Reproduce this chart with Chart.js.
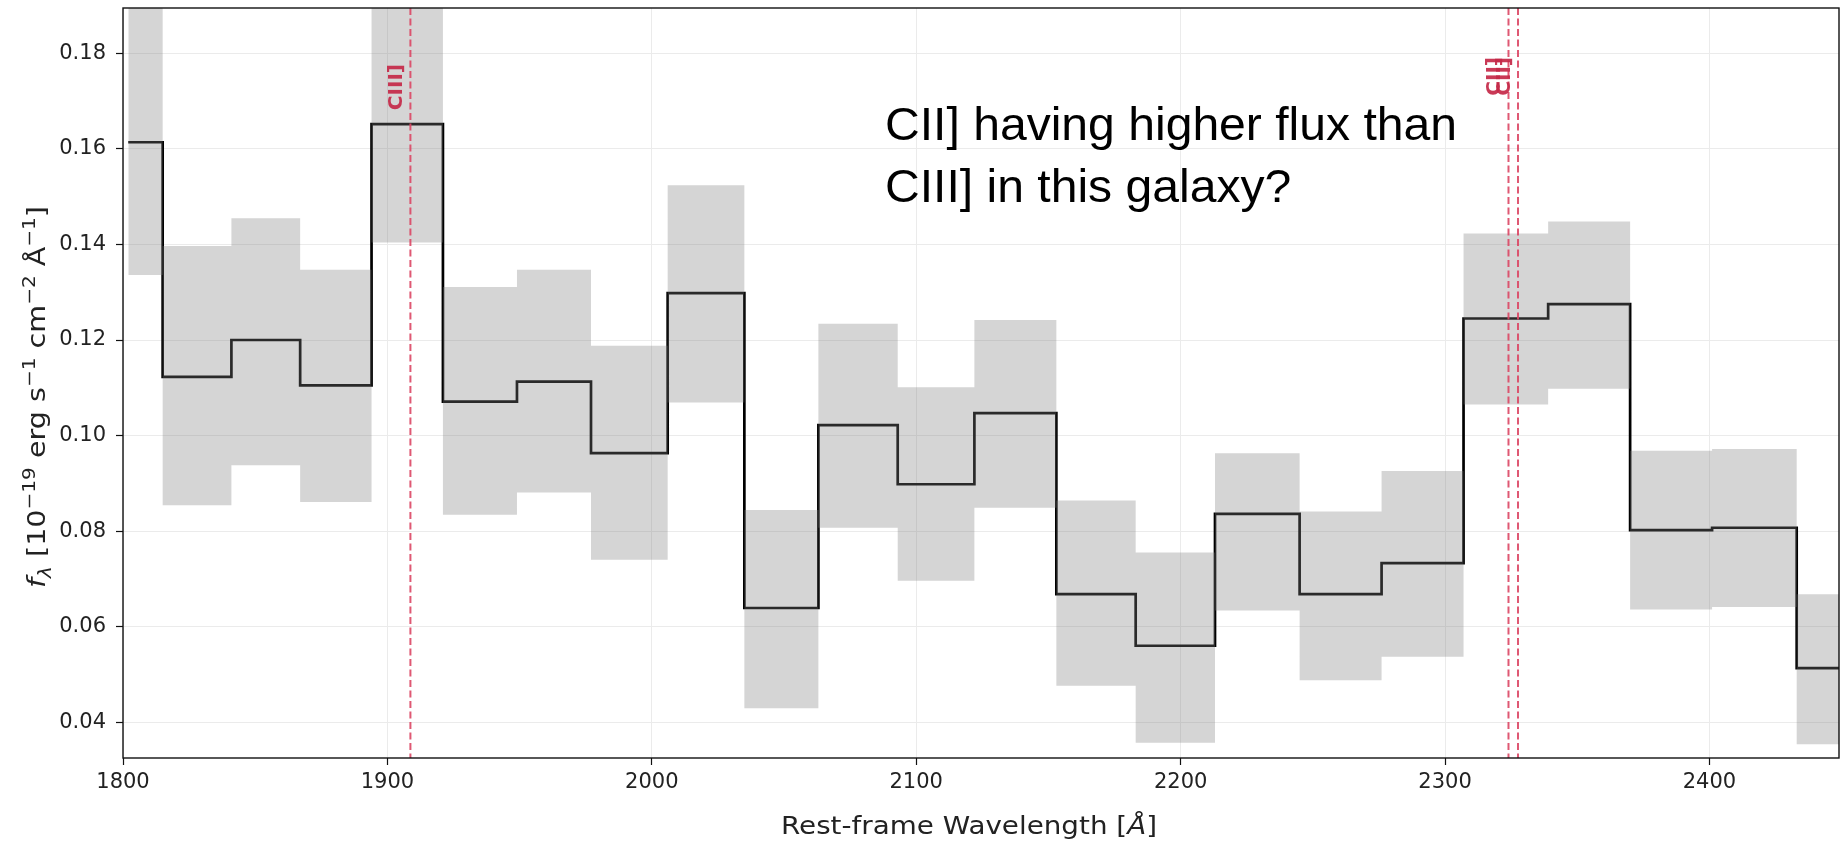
<!DOCTYPE html>
<html>
<head>
<meta charset="utf-8">
<script src="https://cdn.jsdelivr.net/npm/chart.js@4.4.1/dist/chart.umd.min.js"></script>
<style>
  html, body { margin: 0; padding: 0; background: #ffffff; }
  #wrap { width: 1843px; height: 844px; position: relative; }
  canvas { display: block; }
</style>
</head>
<body>
<div id="wrap"><canvas id="c" width="1843" height="844" style="width:1843px;height:844px"></canvas></div>
<script>
// ---- data ----
const binEdges = [1802, 1815, 1841, 1867, 1894, 1921, 1949, 1977, 2006, 2035, 2063, 2093, 2122, 2153, 2183, 2213, 2245, 2276, 2307, 2339, 2370, 2401, 2433, 2466];
const flux  = [0.1614, 0.1123, 0.1200, 0.1105, 0.1652, 0.1071, 0.1113, 0.0963, 0.1298, 0.0639, 0.1022, 0.0898, 0.1047, 0.0668, 0.0560, 0.0836, 0.0668, 0.0733, 0.1245, 0.1275, 0.0802, 0.0807, 0.0513];
const upper = [0.1900, 0.1397, 0.1455, 0.1347, 0.1900, 0.1311, 0.1347, 0.1188, 0.1524, 0.0844, 0.1234, 0.1101, 0.1242, 0.0864, 0.0755, 0.0963, 0.0841, 0.0926, 0.1423, 0.1448, 0.0968, 0.0972, 0.0668];
const lower = [0.1336, 0.0854, 0.0938, 0.0861, 0.1404, 0.0834, 0.0881, 0.0740, 0.1069, 0.0429, 0.0807, 0.0696, 0.0849, 0.0476, 0.0357, 0.0634, 0.0488, 0.0537, 0.1065, 0.1098, 0.0636, 0.0641, 0.0354];
const xTicks = [1800, 1900, 2000, 2100, 2200, 2300, 2400];
const yTicks = [0.04, 0.06, 0.08, 0.10, 0.12, 0.14, 0.16, 0.18];
const lineWavelengths = [1908.7, 2324.0, 2327.6];
const lineLabels = ['CIII]', 'CII]', 'CII]'];
const xRange = [1800, 2449];
const yRange = [0.0325, 0.1895];
const noteLines = ['CII] having higher flux than', 'CIII] in this galaxy?'];
const xTitle = 'Rest-frame Wavelength [Å]';

function stepPoints(vals) {
  const pts = vals.map((v, i) => ({ x: binEdges[i], y: v }));
  pts.push({ x: binEdges[vals.length], y: vals[vals.length - 1] });
  return pts;
}

// rich-text helper (for super/subscripts)
function richWidth(ctx, parts, fs, fam) {
  let w = 0;
  for (const p of parts) {
    const s = p.sup || p.sub ? fs * 0.7 : fs;
    ctx.font = (p.it ? 'italic ' : '') + s + 'px ' + fam;
    w += ctx.measureText(p.t).width;
  }
  return w;
}
function richDraw(ctx, parts, fs, fam) {
  let x = 0;
  for (const p of parts) {
    const s = p.sup || p.sub ? fs * 0.7 : fs;
    ctx.font = (p.it ? 'italic ' : '') + s + 'px ' + fam;
    const dy = p.sup ? -fs * 0.42 : (p.sub ? fs * 0.22 : 0);
    ctx.fillText(p.t, x, dy);
    x += ctx.measureText(p.t).width;
  }
}

const decor = {
  id: 'decor',
  afterDatasetsDraw(chart) {
    const { ctx, chartArea: a, scales } = chart;
    const xs = scales.x;
    ctx.save();
    // emission-line markers
    ctx.beginPath();
    ctx.rect(a.left, a.top, a.right - a.left, a.bottom - a.top);
    ctx.clip();
    lineWavelengths.forEach((w, i) => {
      const px = xs.getPixelForValue(w);
      ctx.save();
      ctx.strokeStyle = 'rgba(220, 70, 100, 0.9)';
      ctx.lineWidth = 2;
      ctx.setLineDash([7, 3.5]);
      ctx.beginPath();
      ctx.moveTo(px, a.top);
      ctx.lineTo(px, a.bottom);
      ctx.stroke();
      ctx.restore();
      ctx.save();
      ctx.font = 'bold 20px "DejaVu Sans"';
      // end of the rotated label sits this far below the top of the axes
      const topOffset = lineLabels[i] === 'CIII]' ? 56 : 49;
      ctx.translate(px - 8, a.top + topOffset);
      ctx.rotate(-Math.PI / 2);
      ctx.fillStyle = 'rgba(196, 40, 72, 0.92)';
      ctx.textAlign = 'right';
      ctx.textBaseline = 'alphabetic';
      ctx.fillText(lineLabels[i], 0, 0);
      ctx.restore();
    });
    ctx.restore();

    // frame
    ctx.save();
    ctx.strokeStyle = '#111';
    ctx.lineWidth = 1.4;
    ctx.strokeRect(a.left, a.top, a.right - a.left, a.bottom - a.top);
    ctx.restore();

    // annotation text
    ctx.save();
    ctx.font = '47px "Liberation Sans", Arial, sans-serif';
    ctx.fillStyle = '#000';
    const w0 = ctx.measureText(noteLines[0]).width;
    const sx = 572 / w0;
    const tx = a.left + 762;
    [a.top + 132, a.top + 194].forEach((y, i) => {
      ctx.save();
      ctx.translate(tx, y);
      ctx.scale(sx, 1);
      ctx.fillText(noteLines[i], 0, 0);
      ctx.restore();
    });
    ctx.restore();
  },
  afterDraw(chart) {
    const { ctx, chartArea: a } = chart;
    const fam = '"DejaVu Sans"';
    // x title
    ctx.save();
    ctx.fillStyle = '#222';
    ctx.textBaseline = 'alphabetic';
    const xParts = [{ t: xTitle.slice(0, xTitle.length - 2) }, { t: 'Å', it: true }, { t: ']' }];
    const xw = richWidth(ctx, xParts, 24, fam);
    const xsx = 376 / xw;
    ctx.translate((a.left + a.right) / 2 - 12 - 188, 834);
    ctx.scale(xsx, 1);
    richDraw(ctx, xParts, 24, fam);
    ctx.restore();
    // y title
    ctx.save();
    ctx.fillStyle = '#222';
    ctx.textBaseline = 'alphabetic';
    const yParts = [
      { t: 'f', it: true }, { t: 'λ', it: true, sub: true }, { t: ' [10' }, { t: '−19', sup: true },
      { t: ' erg s' }, { t: '−1', sup: true }, { t: ' cm' }, { t: '−2', sup: true },
      { t: ' Å' }, { t: '−1', sup: true }, { t: ']' }
    ];
    const yw = richWidth(ctx, yParts, 25, fam);
    const ysx = 382 / yw;
    ctx.translate(45, 397);
    ctx.rotate(-Math.PI / 2);
    ctx.scale(ysx, 1);
    ctx.translate(-yw / 2, 0);
    richDraw(ctx, yParts, 25, fam);
    ctx.restore();
  }
};

const shade = 'rgba(128,128,128,0.33)';
new Chart(document.getElementById('c'), {
  type: 'line',
  data: {
    datasets: [
      { label: 'upper', data: stepPoints(upper), stepped: true, borderWidth: 0, borderColor: 'rgba(0,0,0,0)', pointRadius: 0, fill: '+1', backgroundColor: shade, clip: 0 },
      { label: 'lower', data: stepPoints(lower), stepped: true, borderWidth: 0, borderColor: 'rgba(0,0,0,0)', pointRadius: 0, fill: false, clip: 0 },
      { label: 'flux', data: stepPoints(flux), stepped: true, borderWidth: 2.7, borderColor: '#000', pointRadius: 0, fill: false, clip: 0 }
    ]
  },
  options: {
    responsive: false,
    animation: false,
    events: [],
    layout: { padding: { left: 0, right: 4, top: 8, bottom: 0 } },
    plugins: { legend: { display: false }, tooltip: { enabled: false } },
    scales: {
      x: {
        type: 'linear', min: xRange[0], max: xRange[1],
        afterBuildTicks: s => { s.ticks = xTicks.map(v => ({ value: v })); },
        afterFit: s => { s.height = 86; s.paddingLeft = 0; s.paddingRight = 0; },
        border: { display: false },
        grid: { color: '#ebebeb', lineWidth: 1, tickColor: '#111', tickLength: 7, tickWidth: 1.2 },
        ticks: { font: { family: 'DejaVu Sans', size: 21 }, color: '#222', padding: 5, maxRotation: 0, autoSkip: false, callback: v => String(v) }
      },
      y: {
        type: 'linear', min: yRange[0], max: yRange[1],
        afterBuildTicks: s => { s.ticks = yTicks.map(v => ({ value: v })); },
        afterFit: s => { s.width = 123; s.paddingTop = 0; s.paddingBottom = 0; },
        border: { display: false },
        grid: { color: '#ebebeb', lineWidth: 1, tickColor: '#111', tickLength: 7, tickWidth: 1.2 },
        ticks: { font: { family: 'DejaVu Sans', size: 21 }, color: '#222', padding: 10, callback: v => v.toFixed(2) }
      }
    }
  },
  plugins: [decor]
});
</script>
</body>
</html>
